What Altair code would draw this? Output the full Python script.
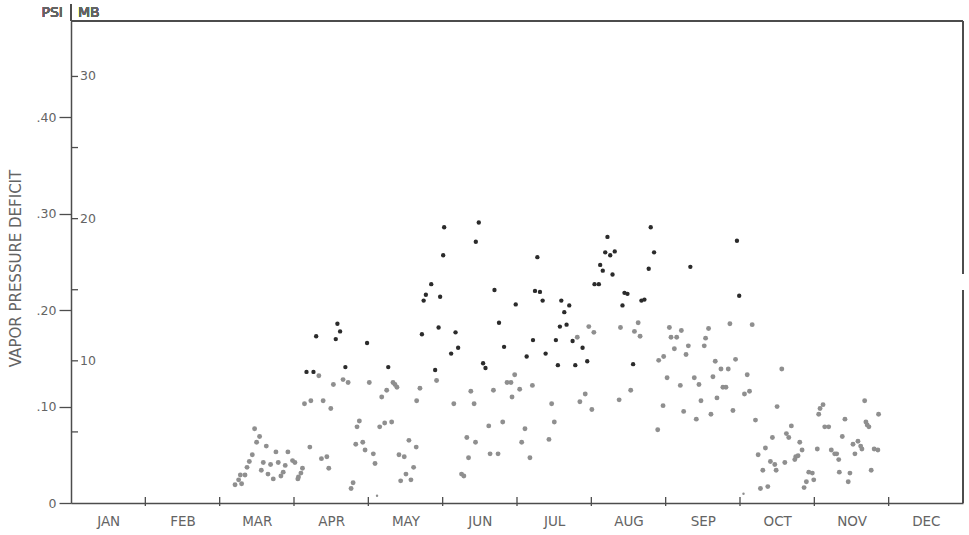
import altair as alt
import pandas as pd

# ---------------- data ----------------
MONTHS = ["JAN", "FEB", "MAR", "APR", "MAY", "JUN",
          "JUL", "AUG", "SEP", "OCT", "NOV", "DEC"]
psi_ticks = [0, 0.1, 0.2, 0.3, 0.4]
mb_ticks = [5, 10, 15, 20, 25, 30]
mb_labels = [10, 20, 30]
MB_PER_PSI = 67.8          # MB scale as drawn on the reference
month_bounds = list(range(1, 12))

# x = fractional month (0 = 1 Jan, 12 = 31 Dec); y = vapor pressure deficit, psi
gray_month = [
    2.470, 2.537, 2.497, 2.627, 2.439, 2.757, 2.918, 2.399, 2.368, 2.587, 2.685, 2.788, 2.882,
    2.980, 3.012, 2.560, 2.650, 2.824, 2.855, 2.721, 2.278, 2.341, 2.255, 2.295, 2.207, 3.114,
    3.093, 3.060, 3.052,
    3.141, 3.227, 3.334, 3.392, 3.495, 3.530, 3.660, 3.728, 4.013, 3.213, 3.369, 3.442, 3.468,
    3.795, 3.768,
    3.848, 3.879, 3.831, 3.925, 3.956, 4.067, 4.090, 4.180, 4.247, 4.332, 4.358, 4.385, 4.153,
    4.220, 4.314, 4.546, 4.644, 4.412, 4.483, 4.609, 4.506, 4.573, 4.435, 4.650, 4.694, 4.918,
    5.379, 5.683, 5.866, 5.919, 5.969, 6.036, 5.933, 6.207, 5.150, 5.423, 6.466, 6.502, 6.430,
    6.174, 6.063, 6.107, 5.808, 5.620, 5.325, 5.442, 5.348, 5.638, 5.745, 5.254, 5.285,
    6.811, 6.966, 7.034, 6.846, 6.918, 7.007, 7.374, 7.530, 7.392, 7.630, 7.580, 7.656,
    8.050, 8.072, 8.148, 8.211, 8.117, 8.305, 8.274, 8.519, 8.537, 8.577, 8.864, 9.164,
    7.906, 7.973, 8.019, 8.197, 8.385, 8.448, 8.636, 8.667, 8.744, 8.842, 8.940, 9.097,
    8.770, 8.811, 9.060, 9.128, 8.475, 8.690, 8.905, 8.609, 8.412, 8.242, 7.965, 7.893,
    9.208, 9.499, 9.436, 9.342, 9.244, 9.409, 9.468, 9.486, 9.307, 9.275, 9.374,
    9.562, 9.691, 9.624, 9.656, 9.804, 9.835, 9.603, 9.750, 9.781, 9.737,
    9.925, 9.973, 9.893, 9.992, 9.862,
    10.040, 10.059, 10.077, 10.117, 10.140, 10.193, 10.228, 10.274, 10.301, 10.328,
    10.412, 10.376, 10.336, 10.479, 10.456, 10.520, 10.587, 10.546, 10.623, 10.640,
    10.677, 10.694, 10.711, 10.734, 10.864, 10.805, 10.855, 10.765,
]
gray_vpd = [
    0.077, 0.069, 0.063, 0.059, 0.050, 0.053, 0.053, 0.043, 0.037, 0.042, 0.040, 0.042, 0.039,
    0.044, 0.042, 0.034, 0.030, 0.028, 0.032, 0.025, 0.029, 0.029, 0.024, 0.020, 0.019, 0.036,
    0.031, 0.027, 0.025,
    0.103, 0.106, 0.132, 0.106, 0.098, 0.123, 0.128, 0.125, 0.125, 0.058, 0.046, 0.048, 0.036,
    0.021, 0.015,
    0.079, 0.085, 0.061, 0.063, 0.055, 0.051, 0.041, 0.110, 0.117, 0.125, 0.123, 0.120, 0.079,
    0.083, 0.084, 0.065, 0.058, 0.050, 0.048, 0.037, 0.030, 0.024, 0.023, 0.106, 0.119, 0.127,
    0.116, 0.117, 0.125, 0.125, 0.133, 0.118, 0.110, 0.122, 0.103, 0.103, 0.103, 0.084, 0.066,
    0.047, 0.063, 0.077, 0.084, 0.080, 0.068, 0.063, 0.047, 0.051, 0.051, 0.030, 0.028,
    0.172, 0.183, 0.177, 0.105, 0.113, 0.097, 0.107, 0.117, 0.182, 0.187, 0.178, 0.173,
    0.182, 0.172, 0.172, 0.179, 0.160, 0.163, 0.154, 0.163, 0.171, 0.181, 0.186, 0.185,
    0.148, 0.152, 0.130, 0.122, 0.130, 0.123, 0.131, 0.147, 0.139, 0.139, 0.149, 0.133,
    0.120, 0.120, 0.113, 0.116, 0.106, 0.109, 0.096, 0.092, 0.087, 0.095, 0.101, 0.076,
    0.086, 0.100, 0.068, 0.057, 0.050, 0.043, 0.040, 0.034, 0.034, 0.015, 0.017,
    0.139, 0.080, 0.072, 0.068, 0.063, 0.055, 0.042, 0.048, 0.049, 0.045,
    0.032, 0.031, 0.022, 0.024, 0.016,
    0.056, 0.092, 0.098, 0.102, 0.079, 0.079, 0.055, 0.051, 0.051, 0.045,
    0.087, 0.069, 0.032, 0.031, 0.022, 0.061, 0.064, 0.051, 0.059, 0.056,
    0.106, 0.084, 0.081, 0.079, 0.092, 0.056, 0.055, 0.034,
]
trace_month = [4.117, 9.047]
trace_vpd = [0.0076, 0.0096]

dark_month = [
    3.298, 3.584, 3.620, 3.562, 3.983, 3.168, 3.262, 3.691, 4.268,
    5.020, 5.486, 5.446, 5.007, 4.846, 4.774, 4.744, 4.966, 5.208, 5.173, 5.114, 4.945, 4.721, 4.899,
    6.274, 5.697, 6.242, 6.309, 6.345, 5.983, 5.758, 5.826, 6.215, 6.130, 6.385, 5.544, 5.576,
    6.596, 6.703, 6.636, 6.577, 6.667, 6.523, 6.748, 6.882, 6.945, 6.784, 6.550,
    7.217, 7.187, 7.254, 7.315, 7.119, 7.154, 7.285, 7.043, 7.101,
    7.799, 7.844, 7.772, 7.446, 7.486, 7.674, 7.714, 7.419,
    8.332, 8.959, 8.989, 7.562,
]
dark_vpd = [
    0.173, 0.186, 0.178, 0.170, 0.166, 0.136, 0.136, 0.141, 0.141,
    0.286, 0.291, 0.271, 0.257, 0.227, 0.216, 0.210, 0.214, 0.161, 0.177, 0.155, 0.182, 0.175, 0.138,
    0.255, 0.221, 0.220, 0.219, 0.210, 0.206, 0.187, 0.162, 0.169, 0.152, 0.155, 0.145, 0.140,
    0.210, 0.205, 0.198, 0.183, 0.185, 0.169, 0.168, 0.161, 0.147, 0.143, 0.143,
    0.276, 0.260, 0.257, 0.261, 0.247, 0.241, 0.237, 0.227, 0.227,
    0.286, 0.260, 0.243, 0.218, 0.217, 0.210, 0.211, 0.205,
    0.245, 0.272, 0.215, 0.144,
]

# ---------------- styling ----------------
W, H = 892, 482
AX = "#4d4d4d"
TXT = "#646464"
FONT = "DejaVu Sans"
GRAY = "#8f8f8f"
DARK = "#2b2b2b"

xs = alt.Scale(domain=[0, 12], nice=False, zero=False)
ys = alt.Scale(domain=[0, 0.5], nice=False, zero=False)

gray_df = pd.DataFrame({"month": gray_month, "vpd": gray_vpd})
dark_df = pd.DataFrame({"month": dark_month, "vpd": dark_vpd})
trace_df = pd.DataFrame({"month": trace_month, "vpd": trace_vpd})
bounds_df = pd.DataFrame({"b": month_bounds})
mb_df = pd.DataFrame({"mb": mb_ticks})
mbl_df = pd.DataFrame({"mb": mb_labels})

month_expr = "[" + ",".join("'%s'" % m for m in MONTHS) + "][floor(datum.value)]"

gray = alt.Chart(gray_df).mark_circle(size=24, color=GRAY, opacity=1).encode(
    x=alt.X("month:Q", scale=xs, axis=alt.Axis(
        values=[i + 0.5 for i in range(12)], labelExpr=month_expr, tickSize=0,
        grid=False, title=None, domainColor=AX, domainWidth=1.5,
        labelFont=FONT, labelFontSize=13.5, labelColor=TXT, labelPadding=11)),
    y=alt.Y("vpd:Q", scale=ys, axis=alt.Axis(
        values=psi_ticks,
        labelExpr="datum.value == 0 ? '0' : replace(format(datum.value, '.2f'), '0.', '.')",
        tickSize=12, tickColor=AX, tickWidth=1.3, grid=False,
        domainColor=AX, domainWidth=1.5,
        labelFont=FONT, labelFontSize=12.5, labelColor=TXT, labelPadding=3,
        title="VAPOR PRESSURE DEFICIT", titleFont=FONT, titleFontSize=15,
        titleFontWeight="normal", titleColor=TXT, titleX=-56, titleY=H / 2 + 6,
        titleBaseline="middle", titleAngle=270)),
)

trace = alt.Chart(trace_df).mark_circle(size=6, color=GRAY, opacity=1).encode(
    x=alt.X("month:Q", scale=xs, axis=None),
    y=alt.Y("vpd:Q", scale=ys, axis=None),
)

dark = alt.Chart(dark_df).mark_circle(size=19, color=DARK, opacity=1).encode(
    x=alt.X("month:Q", scale=xs, axis=None),
    y=alt.Y("vpd:Q", scale=ys, axis=None),
)

month_ticks = alt.Chart(bounds_df).mark_rule(color=AX, strokeWidth=1.3).encode(
    x=alt.X("b:Q", scale=xs, axis=None),
    y=alt.value(H - 6), y2=alt.value(H + 3),
)

mb_tick = alt.Chart(mb_df).transform_calculate(
    psi="datum.mb / %s" % MB_PER_PSI
).mark_rule(color=AX, strokeWidth=1.3).encode(
    y=alt.Y("psi:Q", scale=ys, axis=None),
    x=alt.value(0), x2=alt.value(7),
)

mb_text = alt.Chart(mbl_df).transform_calculate(
    psi="datum.mb / %s" % MB_PER_PSI
).mark_text(align="left", baseline="middle", font=FONT, fontSize=12.5, color=TXT).encode(
    y=alt.Y("psi:Q", scale=ys, axis=None),
    x=alt.value(9),
    text="mb:Q",
)

top_line = alt.Chart(bounds_df).mark_rule(color=AX, strokeWidth=1.5).encode(
    x=alt.value(0), x2=alt.value(W), y=alt.value(0))
right_upper = alt.Chart(bounds_df).mark_rule(color=AX, strokeWidth=1.3).encode(
    x=alt.value(W), y=alt.value(0), y2=alt.value(253))
right_lower = alt.Chart(bounds_df).mark_rule(color=AX, strokeWidth=1.3).encode(
    x=alt.value(W), y=alt.value(269), y2=alt.value(H))
left_ext = alt.Chart(bounds_df).mark_rule(color=AX, strokeWidth=1.5).encode(
    x=alt.value(0), y=alt.value(-17), y2=alt.value(0))

psi_lbl = alt.Chart(bounds_df).mark_text(
    text="PSI", align="right", baseline="middle", font=FONT, fontSize=14,
    fontWeight="normal", color=TXT).encode(x=alt.value(-8), y=alt.value(-8))
mb_lbl = alt.Chart(bounds_df).mark_text(
    text="MB", align="left", baseline="middle", font=FONT, fontSize=14,
    fontWeight="normal", color=TXT).encode(x=alt.value(7), y=alt.value(-8))

chart = alt.layer(
    gray, trace, dark, month_ticks, mb_tick, mb_text,
    top_line, right_upper, right_lower, left_ext, psi_lbl, mb_lbl,
).resolve_axis(
    x="independent", y="independent"
).properties(
    width=W, height=H,
    autosize=alt.AutoSizeParams(type="none"),
    padding={"left": 71, "top": 21, "right": 6, "bottom": 32},
    background="white",
).configure_view(stroke=None)

chart.save("out.html", embed_options={"renderer": "svg", "actions": False})
